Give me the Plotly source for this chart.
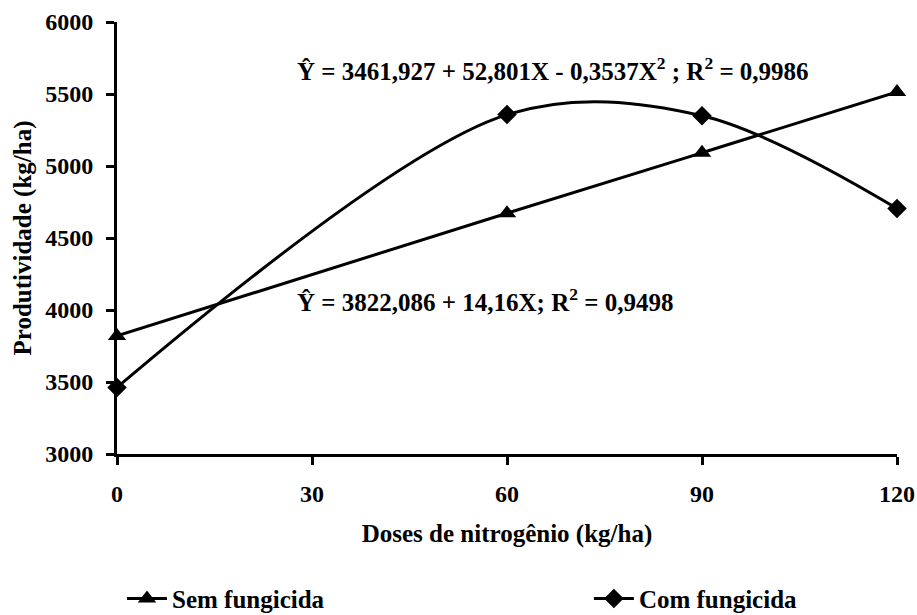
import plotly.graph_objects as go

doses = [0, 60, 90, 120]
sem_fungicida = [3820, 4672, 5092, 5514]
com_fungicida = [3462, 5357, 5349, 4705]
x_ticks = [0, 30, 60, 90, 120]
y_ticks = [3000, 3500, 4000, 4500, 5000, 5500, 6000]

eq_com = "Ŷ = 3461,927 + 52,801X - 0,3537X<sup>2</sup> ; R<sup>2</sup> = 0,9986"
eq_sem = "Ŷ = 3822,086 + 14,16X; R<sup>2</sup> = 0,9498"

FONT = "Liberation Serif"

fig = go.Figure()
fig.add_trace(go.Scatter(
    x=doses, y=sem_fungicida, name="<b>Sem fungicida</b>", legend="legend",
    mode="lines+markers",
    line=dict(color="black", width=3, shape="spline", smoothing=0.95),
    marker=dict(symbol="triangle-up", size=16, color="black"),
))
fig.add_trace(go.Scatter(
    x=doses, y=com_fungicida, name="<b>Com fungicida</b>", legend="legend2",
    mode="lines+markers",
    line=dict(color="black", width=3, shape="spline", smoothing=0.95),
    marker=dict(symbol="diamond", size=15, color="black"),
))

fig.add_annotation(x=27.4, y=5673, xref="x", yref="y", text="<b>" + eq_com + "</b>",
                   showarrow=False, xanchor="left", yanchor="middle",
                   font=dict(family=FONT, size=25, color="black"))
fig.add_annotation(x=27.4, y=4069, xref="x", yref="y", text="<b>" + eq_sem + "</b>",
                   showarrow=False, xanchor="left", yanchor="middle",
                   font=dict(family=FONT, size=25, color="black"))

leg = dict(orientation="h", xanchor="left", y=-0.335, yanchor="middle",
           font=dict(family=FONT, size=25, color="black"), itemwidth=40,
           bgcolor="rgba(0,0,0,0)")

fig.update_layout(
    width=917, height=615,
    margin=dict(l=117, r=20, t=22, b=161, autoexpand=False),
    paper_bgcolor="white", plot_bgcolor="white",
    font=dict(family=FONT, size=25, color="black"),
    showlegend=True,
    legend=dict(leg, x=0.0064),
    legend2=dict(leg, x=0.605),
    xaxis=dict(range=[0, 120], tickvals=x_ticks, ticktext=[f"<b>{v}</b>" for v in x_ticks],
               showgrid=False, zeroline=False, showline=True, linecolor="black", linewidth=3,
               ticks="outside", ticklen=8, tickwidth=3, tickcolor="black", automargin=False,
               ticklabelstandoff=8,
               title=dict(text="<b>Doses de nitrogênio (kg/ha)</b>", standoff=19,
                          font=dict(family=FONT, size=25)),
               tickfont=dict(family=FONT, size=24)),
    yaxis=dict(range=[3000, 6000], tickvals=y_ticks, ticktext=[f"<b>{v}</b>" for v in y_ticks],
               showgrid=False, zeroline=False, showline=True, linecolor="black", linewidth=3,
               ticks="outside", ticklen=8, tickwidth=3, tickcolor="black", automargin=False,
               ticklabelstandoff=8,
               title=dict(text="<b>Produtividade (kg/ha)</b>", standoff=7,
                          font=dict(family=FONT, size=25)),
               tickfont=dict(family=FONT, size=24)),
)
fig.update_traces(cliponaxis=False)

fig.write_html("out.html", config={"displayModeBar": False},
               post_script="document.body.style.margin='0';document.body.style.overflow='hidden';")
